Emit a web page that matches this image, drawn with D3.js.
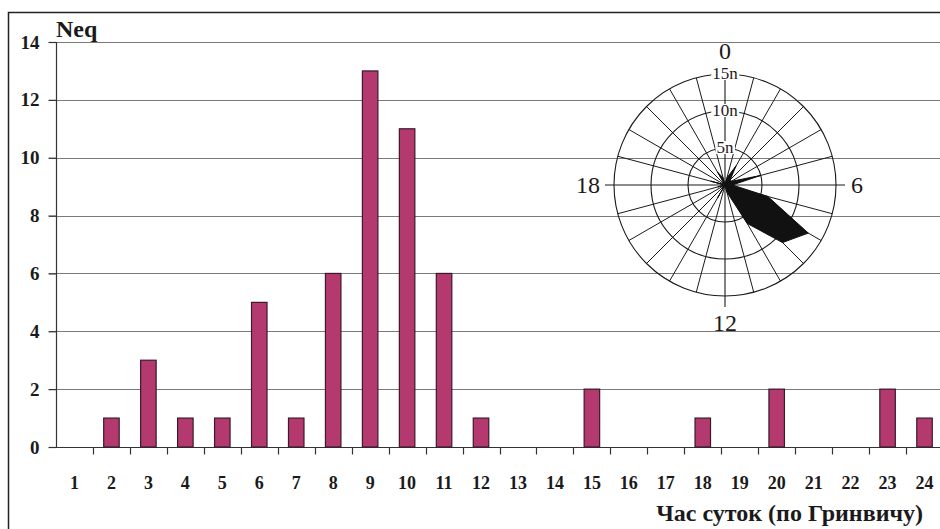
<!DOCTYPE html>
<html>
<head>
<meta charset="utf-8">
<script src="https://cdn.jsdelivr.net/npm/d3@7"></script>
<style>
  html, body { margin: 0; padding: 0; background: #fff; }
  svg { display: block; }
  svg text { font-family: "Liberation Serif", "DejaVu Serif", serif !important; fill: #1a1a1a; }
</style>
</head>
<body>
<svg id="chart" width="940" height="529"></svg>
<script>
// Hour of day (UTC) and number of events per hour
const hours = d3.range(1, 25);
const counts = [0, 1, 3, 1, 1, 5, 1, 6, 13, 11, 6, 1, 0, 0, 2, 0, 0, 1, 0, 2, 0, 0, 2, 1];
const yTicks = [0, 2, 4, 6, 8, 10, 12, 14];
const ringValues = [5, 10, 15];
const compassLabels = [{ h: 0, t: "0" }, { h: 6, t: "6" }, { h: 12, t: "12" }, { h: 18, t: "18" }];
const yTitle = "Neq";
const xTitle = "Час суток (по Гринвичу)";

const svg = d3.select("#chart");

// outer frame (runs off the right and bottom edges)
svg.append("rect")
  .attr("x", 8.5).attr("y", 12.5)
  .attr("width", 960).attr("height", 560)
  .attr("fill", "none").attr("stroke", "#222").attr("stroke-width", 1.5);

const x = d3.scaleBand().domain(hours).range([56, 943]).paddingInner(0);
const y = d3.scaleLinear().domain([0, 14]).range([447, 42]);

// horizontal gridlines
svg.append("g")
  .selectAll("line")
  .data(yTicks.filter(d => d > 0))
  .join("line")
  .attr("x1", 49).attr("x2", 940)
  .attr("y1", d => Math.round(y(d)) + 0.5).attr("y2", d => Math.round(y(d)) + 0.5)
  .attr("stroke", "#7a7a7a").attr("stroke-width", 1.2);

// y axis
const yAxis = d3.axisLeft(y).tickValues(yTicks).tickSize(8).tickPadding(9).tickFormat(d3.format("d"));
const gy = svg.append("g").attr("transform", "translate(56.5,0)").call(yAxis);
gy.select(".domain").attr("stroke", "#333").attr("stroke-width", 1.2).attr("d", `M0,${y(0)}V${y(14)}`);
gy.selectAll(".tick line").attr("stroke", "#333").attr("stroke-width", 1.2);
gy.selectAll(".tick text").style("font-size", "19px").style("font-weight", "bold").attr("fill", "#1a1a1a");

// x axis: ticks at band boundaries, labels centred in each band
const gx = svg.append("g").attr("transform", `translate(0,${Math.round(y(0)) + 0.5})`);
gx.append("line").attr("x1", 49).attr("x2", 940).attr("stroke", "#333").attr("stroke-width", 1.2);
gx.selectAll("line.tk")
  .data(hours.slice(1))
  .join("line").attr("class", "tk")
  .attr("x1", d => Math.round(x(d)) + 0.5).attr("x2", d => Math.round(x(d)) + 0.5)
  .attr("y1", 0).attr("y2", 7)
  .attr("stroke", "#333").attr("stroke-width", 1.2);
gx.selectAll("text")
  .data(hours)
  .join("text")
  .attr("x", d => x(d) + x.bandwidth() / 2)
  .attr("y", 41)
  .attr("text-anchor", "middle")
  .style("font-size", "18px").style("font-weight", "bold")
  .text(d => d);

// bars
const barW = 15.5;
svg.append("g")
  .selectAll("rect")
  .data(hours.map((h, i) => ({ h, v: counts[i] })).filter(d => d.v > 0))
  .join("rect")
  .attr("x", d => x(d.h) + x.bandwidth() / 2 - barW / 2)
  .attr("y", d => y(d.v))
  .attr("width", barW)
  .attr("height", d => y(0) - y(d.v))
  .attr("fill", "#b3396f")
  .attr("stroke", "#3b1a2a").attr("stroke-width", 1.2);

// titles
svg.append("text").attr("x", 56).attr("y", 37)
  .style("font-size", "24px").style("font-weight", "bold").text(yTitle);
svg.append("text").attr("x", 923).attr("y", 521).attr("text-anchor", "end")
  .style("font-size", "24px").style("font-weight", "bold").text(xTitle);

// ---- polar inset: events by hour on a 24-hour dial ----
const cx = 725, cy = 185;
const r = d3.scaleLinear().domain([0, 15]).range([0, 111]);
const angle = h => h * Math.PI / 12;          // 0 h at top, clockwise
const polar = svg.append("g").attr("transform", `translate(${cx},${cy})`);

// rings
polar.selectAll("circle")
  .data(ringValues)
  .join("circle")
  .attr("r", d => r(d))
  .attr("fill", "none").attr("stroke", "#1a1a1a").attr("stroke-width", 1.1);

// spokes every hour
polar.selectAll("line.spoke")
  .data(d3.range(24).filter(h => h % 6 !== 0))
  .join("line").attr("class", "spoke")
  .attr("x1", 0).attr("y1", 0)
  .attr("x2", h => r(15) * Math.sin(angle(h)))
  .attr("y2", h => -r(15) * Math.cos(angle(h)))
  .attr("stroke", "#1a1a1a").attr("stroke-width", 1);

// main cross axes
polar.append("line").attr("x1", -120).attr("x2", 120).attr("y1", 0).attr("y2", 0)
  .attr("stroke", "#1a1a1a").attr("stroke-width", 1.1);
polar.append("line").attr("x1", 0).attr("x2", 0).attr("y1", -115).attr("y2", 122)
  .attr("stroke", "#1a1a1a").attr("stroke-width", 1.1);

// filled rose: count for hour h drawn at the start of that hour
const rose = d3.lineRadial()
  .angle((d, i) => angle(hours[i] - 1))
  .radius(d => r(d))
  .curve(d3.curveLinearClosed);
polar.append("path")
  .attr("d", rose(counts))
  .attr("fill", "#111").attr("stroke", "#111").attr("stroke-width", 1);

// ring labels
ringValues.forEach(v => {
  const t = polar.append("text")
    .attr("x", 0).attr("y", -r(v) + 5)
    .attr("text-anchor", "middle")
    .style("font-size", "17px")
    .text(v + "n");
  const bb = t.node().getBBox();
  polar.insert("rect", () => t.node())
    .attr("x", bb.x - 1).attr("y", bb.y + 3)
    .attr("width", bb.width + 2).attr("height", bb.height - 6)
    .attr("fill", "#fff");
});

// compass hour labels
const labelPos = { 0: [0, -126], 6: [132, 8], 12: [0, 146], 18: [-137, 8] };
polar.selectAll("text.compass")
  .data(compassLabels)
  .join("text").attr("class", "compass")
  .attr("x", d => labelPos[d.h][0])
  .attr("y", d => labelPos[d.h][1])
  .attr("text-anchor", "middle")
  .style("font-size", "24px")
  .text(d => d.t);
</script>
</body>
</html>
